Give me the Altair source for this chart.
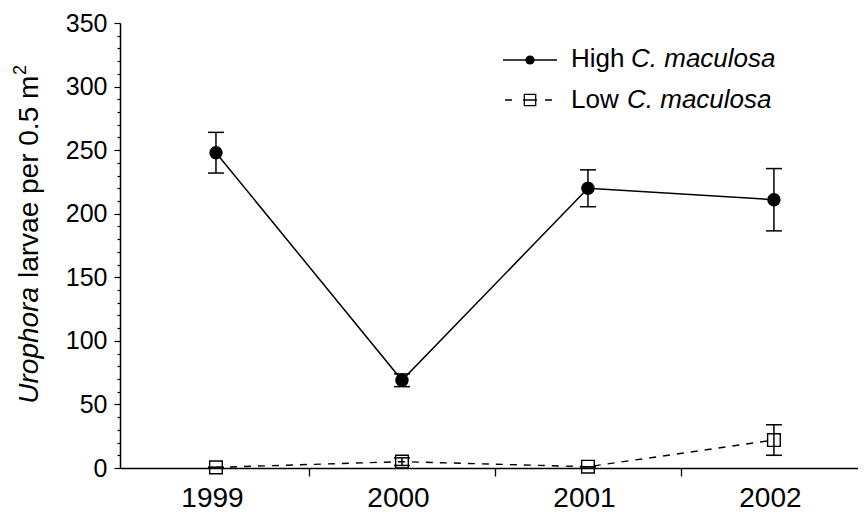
import altair as alt
import pandas as pd

# ---------------- data ----------------
years = [1999, 2000, 2001, 2002]
high_mean = [248, 69, 220, 211]
high_err = [16, 5, 14.5, 24.5]
low_mean = [0.5, 5.0, 1.0, 22.0]
low_err = [0.0, 3.0, 0.0, 12.0]

x_ticks = [1999, 1999.5, 2000, 2000.5, 2001, 2001.5, 2002]
y_ticks = list(range(0, 351, 10))

y_title_italic = ["Urophora"]
y_title_rest = ["larvae per 0.5 m"]
y_title_sup = ["2"]
legend_plain = ["High ", "Low "]
legend_italic = ["C. maculosa", "C. maculosa"]

FONT = "Liberation Sans"
FS = 26

high = pd.DataFrame({
    "year": years, "mean": high_mean,
    "lo": [m - e for m, e in zip(high_mean, high_err)],
    "hi": [m + e for m, e in zip(high_mean, high_err)],
})
low = pd.DataFrame({
    "year": years, "mean": low_mean,
    "lo": [m - e for m, e in zip(low_mean, low_err)],
    "hi": [m + e for m, e in zip(low_mean, low_err)],
})

xscale = alt.Scale(domain=[1998.484, 2002.452], nice=False, zero=False)
yscale = alt.Scale(domain=[0, 350], nice=False)

xaxis = alt.Axis(
    values=x_ticks, title=None, grid=False,
    labelExpr="datum.value % 1 === 0 ? format(datum.value, 'd') : ''",
    tickOpacity={"condition": {"test": "datum.value % 1 === 0", "value": 0}, "value": 1},
    tickSize=8, tickColor="black", tickWidth=1.3,
    domainColor="black", domainWidth=1.5,
    labelFont=FONT, labelFontSize=28, labelColor="black", labelPadding=8, labelOffset=-4,
    labelFlush=False, labelOverlap=False,
)
yaxis = alt.Axis(
    values=y_ticks, title=None, grid=False,
    labelExpr="datum.value % 50 === 0 ? datum.label : ''",
    tickSize={"condition": {"test": "datum.value % 50 === 0", "value": 6}, "value": 3},
    tickColor="black", tickWidth=1.2,
    domainColor="black", domainWidth=1.5,
    labelFont=FONT, labelFontSize=25, labelColor="black", labelPadding=7,
    labelFlush=False, labelOverlap=False,
)


def X(field="year"):
    return alt.X(f"{field}:Q", scale=xscale, axis=xaxis)


def Y(field):
    return alt.Y(f"{field}:Q", scale=yscale, axis=yaxis)


def caps(df, field):
    return alt.Chart(df).mark_tick(orient="horizontal", size=16, thickness=1.5,
                                   color="black", opacity=1).encode(x=X(), y=Y(field))


high_line = alt.Chart(high).mark_line(color="black", strokeWidth=1.5).encode(x=X(), y=Y("mean"))
high_bar = alt.Chart(high).mark_rule(color="black", strokeWidth=1.5).encode(x=X(), y=Y("lo"), y2="hi")
high_pt = alt.Chart(high).mark_circle(size=180, color="black", opacity=1).encode(x=X(), y=Y("mean"))

low_line = alt.Chart(low).mark_line(color="black", strokeWidth=1.4, strokeDash=[7, 7]).encode(x=X(), y=Y("mean"))
low_bar = alt.Chart(low).mark_rule(color="black", strokeWidth=1.5).encode(x=X(), y=Y("lo"), y2="hi")
low_pt = alt.Chart(low).mark_point(shape="square", filled=False, size=160, color="black",
                                   strokeWidth=1.4, opacity=1).encode(x=X(), y=Y("mean"))

# ---------------- y title (mixed italic) ----------------
def vtext(txt, x, y, align, size=28, style="normal"):
    return alt.Chart(pd.DataFrame({"t": txt})).mark_text(
        angle=270, align=align, baseline="alphabetic", font=FONT, fontSize=size,
        fontStyle=style, color="black").encode(x=alt.value(x), y=alt.value(y), text="t:N")


t_it = vtext(y_title_italic, -82, 264, "right", style="italic")
t_rest = vtext(y_title_rest, -82, 255, "left")
t_sup = vtext(y_title_sup, -94, 52, "left", size=18)

# ---------------- legend ----------------
one = pd.DataFrame({"k": [0]})
lg_high_line = alt.Chart(one).mark_rule(color="black", strokeWidth=1.5).encode(
    x=alt.value(383), x2=alt.value(437), y=alt.value(37))
lg_high_pt = alt.Chart(one).mark_circle(size=85, color="black", opacity=1).encode(
    x=alt.value(410), y=alt.value(37))
lg_low_line = alt.Chart(one).mark_rule(color="black", strokeWidth=1.4, strokeDash=[7, 11, 14, 8, 7]).encode(
    x=alt.value(385), x2=alt.value(432), y=alt.value(77))
lg_low_pt = alt.Chart(one).mark_point(shape="square", filled=False, size=130, color="black",
                                      strokeWidth=1.3, opacity=1).encode(x=alt.value(410), y=alt.value(77))


def htext(txt, x, y, style="normal"):
    return alt.Chart(pd.DataFrame({"t": txt})).mark_text(
        align="left", baseline="alphabetic", font=FONT, fontSize=FS, fontStyle=style,
        color="black").encode(x=alt.value(x), y=alt.value(y), text="t:N")


lg_t1 = htext([legend_plain[0]], 451, 44)
lg_t1i = htext([legend_italic[0]], 511, 44, "italic")
lg_t2 = htext([legend_plain[1]], 451, 85)
lg_t2i = htext([legend_italic[1]], 507, 85, "italic")

chart = alt.layer(
    low_line, low_bar, caps(low, "lo"), caps(low, "hi"), low_pt,
    high_line, high_bar, caps(high, "lo"), caps(high, "hi"), high_pt,
    t_it, t_rest, t_sup,
    lg_high_line, lg_high_pt, lg_low_line, lg_low_pt,
    lg_t1, lg_t1i, lg_t2, lg_t2i,
).properties(
    width=738, height=445,
    autosize=alt.AutoSizeParams(type="none"),
    padding={"left": 112, "top": 15, "right": 0, "bottom": 50},
    background="white",
).configure_view(stroke=None)

chart.save("out.html", embed_options={"renderer": "svg", "actions": False})
